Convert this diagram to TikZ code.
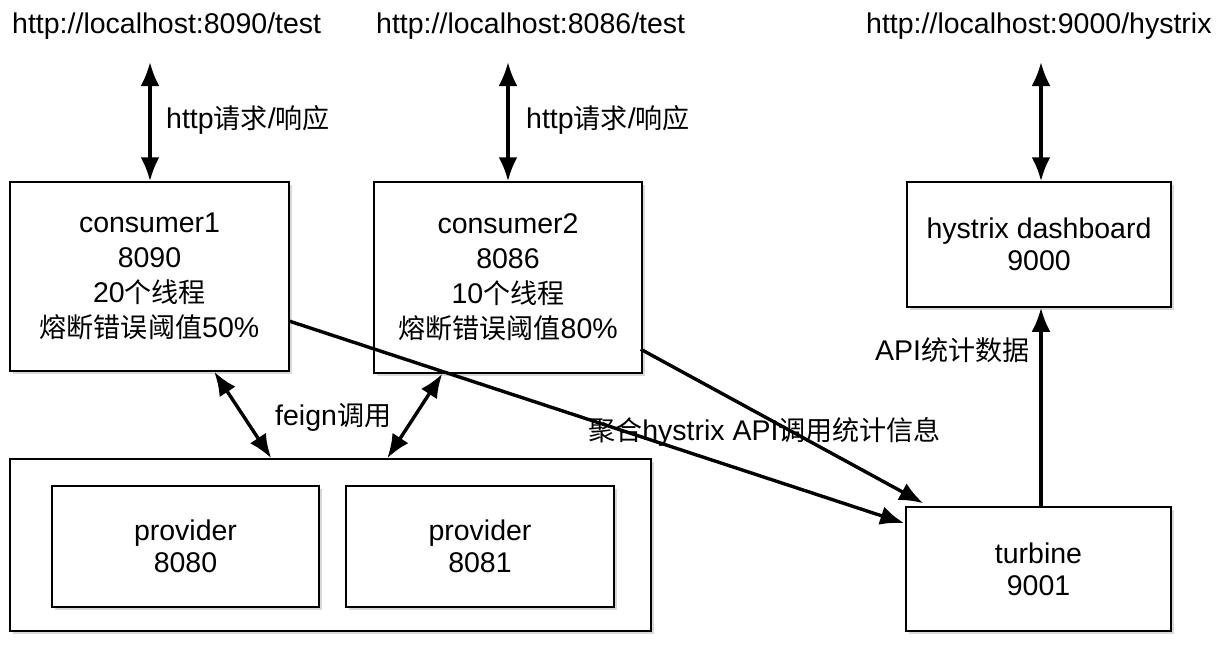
\documentclass[tikz,border=0pt]{standalone}
\usepackage{fontspec}
\setmainfont{Liberation Sans}
\newfontfamily\cjk{Noto Sans CJK SC}[Scale=0.95]
\usetikzlibrary{arrows.meta,shadows,calc}
\begin{document}
\begin{tikzpicture}[x=1pt,y=-1pt, font=\fontsize{28.5}{32}\selectfont,
  box/.style={draw, line width=1.5pt, fill=white, align=center, inner sep=0pt,
    drop shadow={shadow xshift=3pt, shadow yshift=-3pt, opacity=0.3}},
  cbox/.style={box, font=\fontsize{28.5}{35}\selectfont},
  link/.style={line width=3.4pt, -{Latex[length=24pt,width=19pt]}},
  dlink/.style={line width=3.4pt, {Latex[length=24pt,width=19pt]}-{Latex[length=24pt,width=19pt]}},
  lbl/.style={inner sep=0pt, anchor=west}]
\useasboundingbox (0,0) rectangle (1223,653);

% boxes
\node[cbox, minimum width=279pt, minimum height=189pt] (c1) at (149.5,276.5)
  {consumer1\\8090\\20{\cjk 个线程}\\{\cjk 熔断错误阈值}50\%};
\node[cbox, minimum width=268pt, minimum height=191pt] (c2) at (508,277.5)
  {consumer2\\8086\\10{\cjk 个线程}\\{\cjk 熔断错误阈值}80\%};
\node[box, minimum width=264pt, minimum height=125pt] (dash) at (1039,244.5)
  {hystrix dashboard\\9000};
\node[box, minimum width=641pt, minimum height=172pt] (pall) at (330.5,545) {};
\node[box, minimum width=267pt, minimum height=121pt] (p1) at (185.5,546.5)
  {provider\\8080};
\node[box, minimum width=268pt, minimum height=121pt] (p2) at (480,546.5)
  {provider\\8081};
\node[box, minimum width=265pt, minimum height=124pt] (turb) at (1038.5,569)
  {turbine\\9001};

% top labels
\node[lbl] (u1) at (12,26) {http://localhost:8090/test};
\node[lbl] (u2) at (376,26) {http://localhost:8086/test};
\node[lbl] (u3) at (866,26) {http://localhost:9000/hystrix};

\coordinate (t1) at (150,62);
\coordinate (t2) at (508,62);
\coordinate (t3) at (1041,62);

\node[lbl] (h1) at (166,120) {http{\cjk 请求}/{\cjk 响应}};
\node[lbl] (h2) at (526,120) {http{\cjk 请求}/{\cjk 响应}};
\node[lbl] (fg) at (275,417) {feign{\cjk 调用}};
\node[lbl] (agg) at (588,432) {{\cjk 聚合}hystrix API{\cjk 调用统计信息}};
\node[lbl] (api) at (875,350) {API{\cjk 统计数据}};

% connectors
\draw[dlink] (t1) -- (t1 |- c1.north);
\draw[dlink] (t2) -- (t2 |- c2.north);
\draw[dlink] (t3) -- (t3 |- dash.north);

\draw[dlink] ($(c1.south west)+(205,0)$) -- ($(pall.north west)+(262,0)$);
\draw[dlink] ($(c2.south west)+(69,0)$) -- ($(pall.north west)+(378,0)$);

\draw[link] ($(c1.north east)+(0,140)$) -- ($(turb.north west)+(-1,17)$);
\draw[link] ($(c2.north east)+(-2,168)$) -- ($(turb.north west)+(18,-3)$);
\draw[link] ($(turb.north)+(2.5,0)$) -- ($(dash.south)+(2,0)$);
\end{tikzpicture}
\end{document}
